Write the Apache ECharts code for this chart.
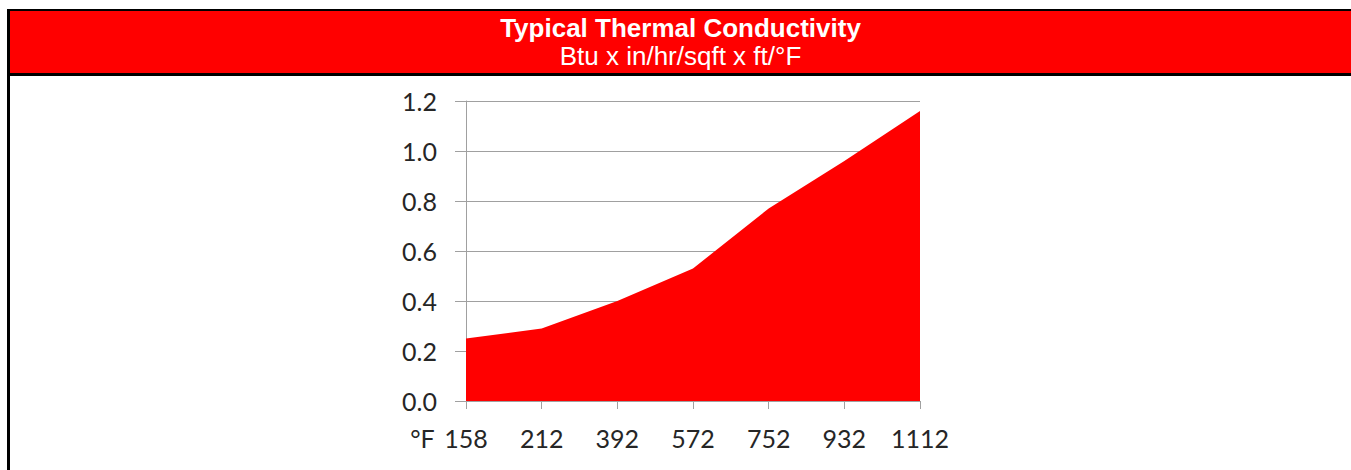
<!DOCTYPE html>
<html>
<head>
<meta charset="utf-8">
<script src="https://cdn.jsdelivr.net/npm/echarts@6/dist/echarts.min.js"></script>
<style>
  html, body { margin: 0; padding: 0; background: #fff; }
  #chart { width: 1351px; height: 470px; }
</style>
</head>
<body>
<div id="chart"></div>
<script>
// temperatures (°F) and conductivity
const temps = ['158', '212', '392', '572', '752', '932', '1112'];
const conductivity = [0.25, 0.29, 0.40, 0.53, 0.77, 0.96, 1.16];
const titleText = 'Typical Thermal Conductivity';
const unitText = 'Btu x in/hr/sqft x ft/°F';

const chart = echarts.init(document.getElementById('chart'), null, { renderer: 'svg' });

const labelFont = { fontFamily: 'Lato', fontSize: 25, color: '#262626' };

chart.setOption({
  animation: false,
  title: {
    text: titleText,
    subtext: unitText,
    left: 680.5,
    top: 15,
    textAlign: 'center',
    itemGap: 2,
    padding: 0,
    textStyle: { fontFamily: 'Liberation Sans', fontWeight: 'bold', fontSize: 26, color: '#fff', lineHeight: 26 },
    subtextStyle: { fontFamily: 'Liberation Sans', fontSize: 26, color: '#fff', lineHeight: 26 }
  },
  graphic: [
    { type: 'rect', z: -1, shape: { x: 7, y: 9, width: 1344, height: 2 }, style: { fill: '#000' } },
    { type: 'rect', z: -1, shape: { x: 10, y: 11, width: 1341, height: 62 }, style: { fill: '#ff0000' } },
    { type: 'rect', z: -1, shape: { x: 7, y: 73, width: 1344, height: 3 }, style: { fill: '#000' } },
    { type: 'rect', z: -1, shape: { x: 7, y: 9, width: 3, height: 461 }, style: { fill: '#000' } }
  ],
  grid: { left: 466, right: 431, top: 101, bottom: 69, containLabel: false },
  xAxis: {
    type: 'category',
    data: temps,
    boundaryGap: false,
    axisLine: { lineStyle: { color: '#a0a0a0', width: 1 } },
    axisTick: { show: true, length: 8, interval: 0, lineStyle: { color: '#a0a0a0' } },
    axisLabel: {
      margin: 24,
      interval: 0,
      hideOverlap: false,
      ...labelFont,
      formatter: (v, i) => i === 0 ? '{u|°F }{v|' + v + '}{p|}' : v,
      rich: {
        u: { ...labelFont, width: 34, align: 'left' },
        v: { ...labelFont },
        p: { ...labelFont, width: 34 }
      }
    },
    splitLine: { show: false }
  },
  yAxis: {
    type: 'value',
    min: 0,
    max: 1.2,
    interval: 0.2,
    axisLine: { show: true, lineStyle: { color: '#a0a0a0', width: 1 } },
    axisTick: { show: true, length: 11, lineStyle: { color: '#a0a0a0' } },
    axisLabel: { margin: 29, ...labelFont, formatter: v => v.toFixed(1) },
    splitLine: { show: true, lineStyle: { color: '#a0a0a0', width: 1 } }
  },
  series: [{
    type: 'line',
    data: conductivity,
    symbol: 'none',
    lineStyle: { width: 0, color: '#ff0000' },
    itemStyle: { color: '#ff0000' },
    areaStyle: { color: '#ff0000', opacity: 1 },
    z: 3
  }]
});
</script>
</body>
</html>
